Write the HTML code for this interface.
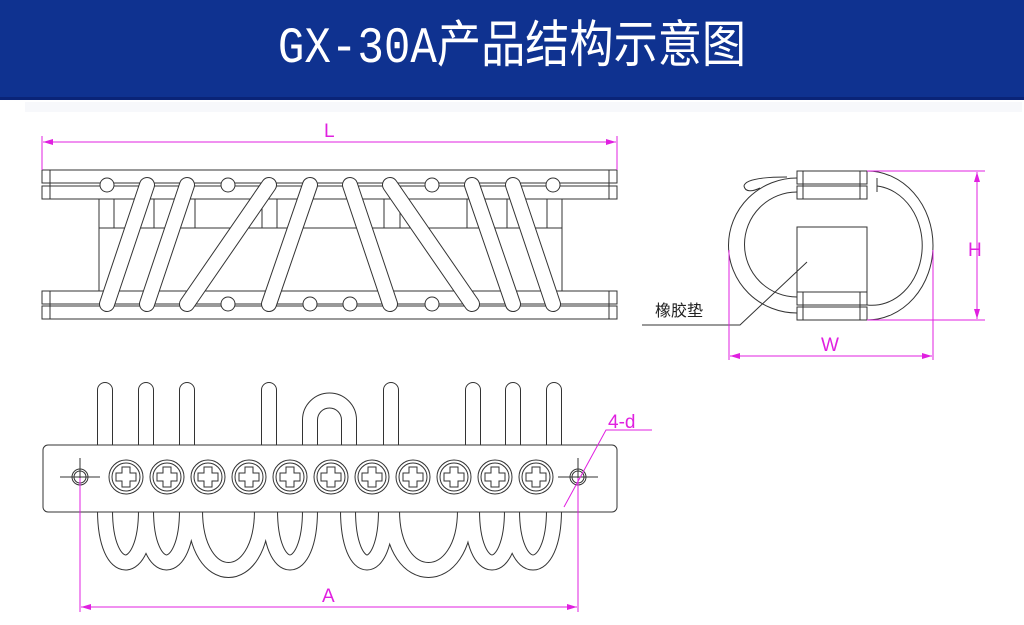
<!DOCTYPE html>
<html><head><meta charset="utf-8"><style>
body{margin:0;width:1024px;height:625px;background:#fff;overflow:hidden;font-family:"Liberation Sans","Noto Sans CJK SC",sans-serif}
.hdr{position:absolute;left:0;top:0;width:1024px;height:97px;background:#0f3290;border-bottom:3px solid #0a2478}
.t{position:absolute;left:0;top:22px;width:1024px;text-align:center;color:#fff;font-size:46px;line-height:54px;font-family:"Liberation Mono","Noto Sans CJK SC",sans-serif;transform:scale(0.96,1.1)}
.bar{position:absolute;left:25px;top:102px;width:997px;height:10px;background:#f7f8fb}
svg{position:absolute;left:0;top:0}
</style></head><body>
<div class="hdr"><div class="t">GX-30A产品结构示意图</div></div>
<div class="bar"></div>
<svg width="1024" height="625" viewBox="0 0 1024 625">
<defs>
<marker id="ar" viewBox="0 0 10 6" refX="10" refY="3" markerWidth="10" markerHeight="6" orient="auto-start-reverse" markerUnits="userSpaceOnUse"><path d="M0,0L10,3L0,6z" fill="#e020e0"/></marker>
</defs>
<g fill="none" stroke="#333" stroke-width="1">
<rect x="42" y="170" width="575" height="13" fill="#fff"/>
<rect x="42" y="186" width="575" height="13" fill="#fff"/>
<line x1="50" y1="170" x2="50" y2="199"/><line x1="609" y1="170" x2="609" y2="199"/>
<rect x="42" y="291" width="575" height="13" fill="#fff"/>
<rect x="42" y="306" width="575" height="13" fill="#fff"/>
<line x1="50" y1="291" x2="50" y2="319"/><line x1="609" y1="291" x2="609" y2="319"/>
<line x1="99" y1="199" x2="99" y2="291"/><line x1="562" y1="199" x2="562" y2="291"/>
<line x1="99" y1="228" x2="562" y2="228"/>
<g>
<line x1="114" y1="199" x2="114" y2="228"/><line x1="154" y1="199" x2="154" y2="228"/><line x1="195" y1="199" x2="195" y2="228"/>
<line x1="262" y1="199" x2="262" y2="228"/><line x1="277" y1="199" x2="277" y2="228"/><line x1="384" y1="199" x2="384" y2="228"/>
<line x1="400" y1="199" x2="400" y2="228"/><line x1="467" y1="199" x2="467" y2="228"/><line x1="507" y1="199" x2="507" y2="228"/><line x1="547" y1="199" x2="547" y2="228"/>
</g>
<g fill="#fff">
<circle cx="107" cy="185" r="7"/><circle cx="228" cy="185" r="7"/><circle cx="432" cy="185" r="7"/><circle cx="553" cy="185" r="7"/>
<circle cx="228" cy="304" r="7"/><circle cx="310" cy="304" r="7"/><circle cx="350" cy="304" r="7"/><circle cx="432" cy="304" r="7"/>
</g>
<g stroke-linecap="round">
<g stroke="#333" stroke-width="16">
<line x1="147" y1="185" x2="107" y2="304"/><line x1="187" y1="185" x2="147" y2="304"/><line x1="269" y1="185" x2="187" y2="304"/><line x1="310" y1="185" x2="269" y2="304"/>
<line x1="350" y1="185" x2="390" y2="304"/><line x1="390" y1="185" x2="472" y2="304"/><line x1="472" y1="185" x2="513" y2="304"/><line x1="513" y1="185" x2="553" y2="304"/>
</g>
<g stroke="#fff" stroke-width="14">
<line x1="147" y1="185" x2="107" y2="304"/><line x1="187" y1="185" x2="147" y2="304"/><line x1="269" y1="185" x2="187" y2="304"/><line x1="310" y1="185" x2="269" y2="304"/>
<line x1="350" y1="185" x2="390" y2="304"/><line x1="390" y1="185" x2="472" y2="304"/><line x1="472" y1="185" x2="513" y2="304"/><line x1="513" y1="185" x2="553" y2="304"/>
</g>
</g>

<g stroke-linecap="round">
<g stroke="#333" stroke-width="16">
<path d="M105,390V450M146,390V450M187,390V450M269,390V450M391,390V450M473,390V450M513,390V450M554,390V450"/>
<path d="M310,450V420A19,19 0 0 1 349,420V450"/>
<path d="M105,510C105,580 146,580 146,510M146,510C146,580 187,580 187,510M195,510C195,590 262,590 262,510M270,510C270,580 310,580 310,510M348,510C348,580 386,580 386,510M392,510C392,590 465,590 465,510M472,510C472,580 512,580 512,510M512,510C512,580 554,580 554,510" stroke-linecap="butt"/>
</g>
<g stroke="#fff" stroke-width="14">
<path d="M105,390V450M146,390V450M187,390V450M269,390V450M391,390V450M473,390V450M513,390V450M554,390V450"/>
<path d="M310,450V420A19,19 0 0 1 349,420V450"/>
<path d="M105,510C105,580 146,580 146,510M146,510C146,580 187,580 187,510M195,510C195,590 262,590 262,510M270,510C270,580 310,580 310,510M348,510C348,580 386,580 386,510M392,510C392,590 465,590 465,510M472,510C472,580 512,580 512,510M512,510C512,580 554,580 554,510" stroke-linecap="butt"/>
</g>
</g>
<rect x="43" y="445" width="574" height="67" rx="5" fill="#fff"/>
<g id="scr">
<circle cx="126" cy="477" r="17" fill="#fff"/><circle cx="126" cy="477" r="14"/>
<path d="M122,467h8v6h6v8h-6v6h-8v-6h-6v-8h6z"/>
</g>
<use href="#scr" x="41"/><use href="#scr" x="82"/><use href="#scr" x="123"/><use href="#scr" x="164"/><use href="#scr" x="205"/>
<use href="#scr" x="246"/><use href="#scr" x="287"/><use href="#scr" x="328"/><use href="#scr" x="369"/><use href="#scr" x="410"/>
<circle cx="80" cy="477" r="8"/><circle cx="80" cy="477" r="6"/>
<circle cx="578" cy="477" r="8"/><circle cx="578" cy="477" r="6"/>
<path d="M60,477H100M80,458V490M558,477H598M578,458V490"/>

<path d="M797,178A68,67 0 0 0 797,313"/>
<path d="M797,192A52,52 0 0 0 797,297"/>
<path d="M867,171A66,74.5 0 0 1 867,320"/>
<path d="M877,186A50,59.5 0 0 1 867,305"/>
<path d="M787,177C760,177 745,180 744,186C745,192 752,192 760,188"/>
<line x1="877" y1="178" x2="877" y2="192"/>
<g fill="#fff">
<rect x="797" y="171" width="70" height="13"/><rect x="797" y="186" width="70" height="13"/>
<rect x="797" y="227" width="70" height="65"/>
<rect x="797" y="292" width="70" height="13"/><rect x="797" y="307" width="70" height="13"/>
</g>
<path d="M803,171V199M860,171V199M803,292V320M860,292V320"/>
<path d="M807,262L740,325H642"/>
</g>
<text x="655" y="316" font-size="16" fill="#222" font-family="'Liberation Sans','Noto Sans CJK SC',sans-serif">橡胶垫</text>

<g stroke="#e020e0" stroke-width="1" fill="none">
<line x1="42" y1="136" x2="42" y2="170"/><line x1="617" y1="136" x2="617" y2="170"/>
<line x1="43" y1="142" x2="616" y2="142" marker-start="url(#ar)" marker-end="url(#ar)"/>
<line x1="80" y1="478" x2="80" y2="612"/><line x1="578" y1="478" x2="578" y2="612"/>
<line x1="81" y1="607" x2="577" y2="607" marker-start="url(#ar)" marker-end="url(#ar)"/>
<path d="M564,507L606,430H652"/>
<line x1="867" y1="171" x2="985" y2="171"/><line x1="867" y1="320" x2="985" y2="320"/>
<line x1="977" y1="172" x2="977" y2="319" marker-start="url(#ar)" marker-end="url(#ar)"/>
<line x1="729" y1="250" x2="729" y2="360"/><line x1="933" y1="250" x2="933" y2="360"/>
<line x1="730" y1="356" x2="932" y2="356" marker-start="url(#ar)" marker-end="url(#ar)"/>
</g>
<g fill="#e020e0" font-family="'Liberation Sans',sans-serif" font-size="19">
<text x="324" y="137">L</text>
<text x="322" y="602">A</text>
<text x="608" y="428">4-d</text>
<text x="968" y="256">H</text>
<text x="821" y="351">W</text>
</g>
</svg>
</body></html>
